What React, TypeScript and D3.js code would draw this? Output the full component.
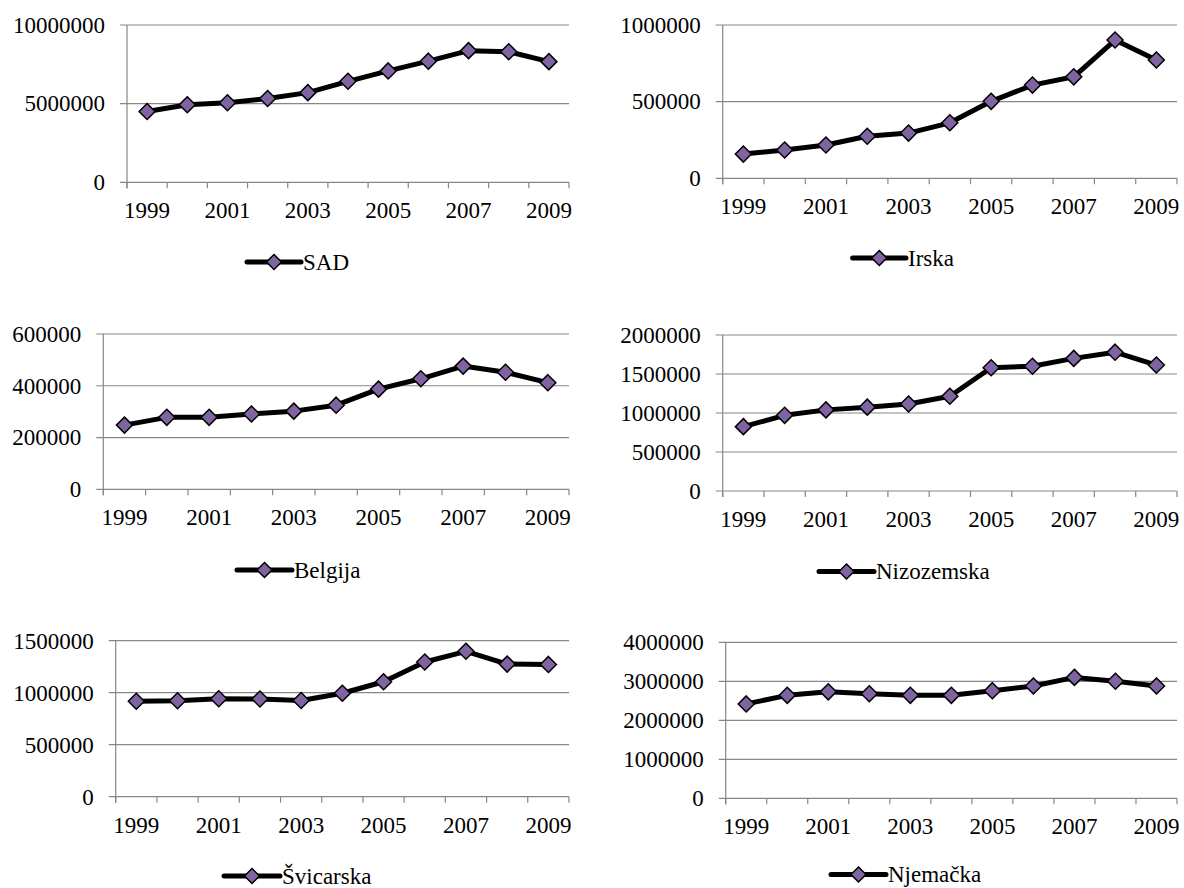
import React from "react";
import * as d3 from "d3";

const years = ["1999", "2000", "2001", "2002", "2003", "2004", "2005", "2006", "2007", "2008", "2009"];
const yearLabels = ["1999", "2001", "2003", "2005", "2007", "2009"];

const sad = [4500000, 4930000, 5060000, 5330000, 5700000, 6420000, 7080000, 7700000, 8370000, 8300000, 7670000];
const irska = [158000, 185000, 217000, 274000, 295000, 362000, 502000, 608000, 662000, 902000, 772000];
const belgija = [248000, 278000, 278000, 291000, 302000, 325000, 387000, 427000, 476000, 452000, 412000];
const nizozemska = [825000, 970000, 1040000, 1075000, 1115000, 1215000, 1580000, 1600000, 1700000, 1780000, 1615000];
const svicarska = [918000, 922000, 942000, 940000, 925000, 995000, 1105000, 1295000, 1398000, 1275000, 1272000];
const njemacka = [2420000, 2640000, 2730000, 2680000, 2640000, 2640000, 2760000, 2880000, 3100000, 3000000, 2880000];

const names = ["SAD", "Irska", "Belgija", "Nizozemska", "Švicarska", "Njemačka"];
const seriesList = [sad, irska, belgija, nizozemska, svicarska, njemacka];
const yMaxes = [10000000, 1000000, 600000, 2000000, 1500000, 4000000];
const ySteps = [5000000, 500000, 200000, 500000, 500000, 1000000];

// layout only
const layouts = [
  { left: 127, right: 569, top: 25, bottom: 182.3, lx1: 247, lx2: 301, ly: 262 },
  { left: 722.7, right: 1177, top: 25, bottom: 178.3, lx1: 852.6, lx2: 906, ly: 258 },
  { left: 103.3, right: 569, top: 334, bottom: 489.3, lx1: 237, lx2: 292, ly: 570 },
  { left: 722.7, right: 1177, top: 335, bottom: 491, lx1: 819, lx2: 874, ly: 571.5 },
  { left: 115.7, right: 569, top: 640.7, bottom: 796.7, lx1: 224, lx2: 280, ly: 876 },
  { left: 725.7, right: 1177, top: 642.3, bottom: 798.3, lx1: 831, lx2: 886, ly: 874.5 },
];

const FONT = "Times New Roman, Liberation Serif, serif";
const GRID = "#878787";
const PURPLE = "#8064A2";

function Diamond({ x, y, r }: { x: number; y: number; r: number }) {
  const d = `M${x},${y - r}L${x + r},${y}L${x},${y + r}L${x - r},${y}Z`;
  return <path d={d} fill={PURPLE} stroke="#000" strokeWidth={1.5} strokeLinejoin="miter" />;
}

const textStyle: React.CSSProperties = { fontFamily: FONT, fontSize: "23px" };

function Panel({ idx }: { idx: number }) {
  const L = layouts[idx];
  const data = seriesList[idx];
  const x = d3.scaleBand<string>().domain(years).range([L.left, L.right]).paddingInner(0).paddingOuter(0);
  const y = d3.scaleLinear().domain([0, yMaxes[idx]]).range([L.bottom, L.top]);
  const ticks = d3.range(0, yMaxes[idx] + 1, ySteps[idx]);
  const bw = x.bandwidth();
  const cx = (yr: string) => (x(yr) as number) + bw / 2;
  const line = d3
    .line<number>()
    .x((_, i) => cx(years[i]))
    .y((v) => y(v));
  const boundaries = years.map((yr) => x(yr) as number).concat([L.right]);
  return (
    <g>
      {ticks.map((t) => (
        <g key={t}>
          <line x1={L.left - 7} x2={L.right} y1={y(t)} y2={y(t)} stroke={GRID} strokeWidth={1.2} />
          <text x={L.left - 22} y={y(t)} dy="0.34em" textAnchor="end" style={textStyle} fill="#000">
            {String(t)}
          </text>
        </g>
      ))}
      <line x1={L.left} x2={L.left} y1={L.top} y2={L.bottom + 6} stroke={GRID} strokeWidth={1.2} />
      {boundaries.map((bx, i) => (
        <line key={i} x1={bx} x2={bx} y1={L.bottom} y2={L.bottom + 6} stroke={GRID} strokeWidth={1.2} />
      ))}
      {yearLabels.map((yl) => (
        <text key={yl} x={cx(yl)} y={L.bottom + 36} textAnchor="middle" style={textStyle} fill="#000">
          {yl}
        </text>
      ))}
      <path d={line(data) || ""} fill="none" stroke="#000" strokeWidth={5} strokeLinejoin="round" />
      {data.map((v, i) => (
        <Diamond key={i} x={cx(years[i])} y={y(v)} r={8} />
      ))}
      <line x1={L.lx1} x2={L.lx2} y1={L.ly} y2={L.ly} stroke="#000" strokeWidth={5} strokeLinecap="round" />
      <Diamond x={(L.lx1 + L.lx2) / 2} y={L.ly} r={7.5} />
      <text x={L.lx2 + 2} y={L.ly} dy="0.34em" style={textStyle} fill="#000">
        {names[idx]}
      </text>
    </g>
  );
}

export default function App() {
  return (
    <svg
      width={1184}
      height={888}
      viewBox="0 0 1184 888"
      style={{ position: "absolute", left: 0, top: 0, background: "#fff" }}
    >
      <rect x={0} y={0} width={1184} height={888} fill="#fff" />
      {layouts.map((_, i) => (
        <Panel key={i} idx={i} />
      ))}
    </svg>
  );
}
